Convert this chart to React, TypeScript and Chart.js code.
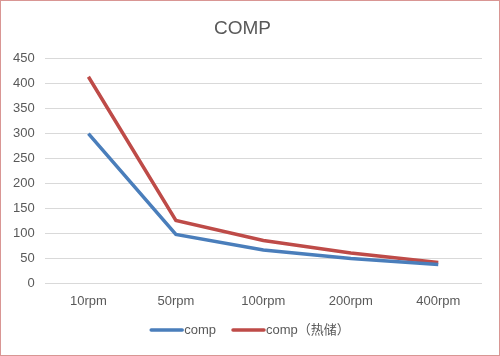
import React, { useEffect, useRef } from "react";
import { Chart, registerables } from "chart.js";

Chart.register(...registerables);

const categories = ["10rpm", "50rpm", "100rpm", "200rpm", "400rpm"];
const compValues = [300, 98, 67, 50, 38];
const compHotValues = [414, 126, 86, 61, 42];
const seriesNames = ["comp", "comp（热储）"];
const titleText = "COMP";

const FONT = '"Liberation Sans", "Noto Sans CJK SC", sans-serif';

const bottomLegend = {
  id: "bottomLegend",
  afterDraw(chart: any) {
    const ctx = chart.ctx;
    const lineW = 33;
    const itemGap = 16;
    const y = 329;
    ctx.save();
    ctx.font = `13px ${FONT}`;
    ctx.textBaseline = "middle";
    ctx.textAlign = "left";
    const items = chart.data.datasets.map((ds: any) => ({
      text: ds.label,
      color: ds.borderColor,
      w: ctx.measureText(ds.label).width,
    }));
    let total = 0;
    items.forEach((it: any, i: number) => {
      total += lineW + 1 + it.w + (i < items.length - 1 ? itemGap : 0);
    });
    let x = chart.width / 2 - total / 2;
    items.forEach((it: any) => {
      ctx.strokeStyle = it.color;
      ctx.lineWidth = 3.5;
      ctx.lineCap = "round";
      ctx.beginPath();
      ctx.moveTo(x + 1, y);
      ctx.lineTo(x + lineW - 1, y);
      ctx.stroke();
      x += lineW + 1;
      ctx.fillStyle = "#595959";
      ctx.fillText(it.text, x, y);
      x += it.w + itemGap;
    });
    ctx.restore();
  },
};

export default function App() {
  const ref = useRef<HTMLCanvasElement | null>(null);
  useEffect(() => {
    document.body.style.margin = "0";
    const ctx = ref.current!;
    const chart = new Chart(ctx, {
      type: "line",
      data: {
        labels: categories,
        datasets: [
          {
            label: seriesNames[0],
            data: compValues,
            borderColor: "#4a7ebb",
            backgroundColor: "#4a7ebb",
            borderWidth: 3.5,
            pointRadius: 0,
            tension: 0,
          },
          {
            label: seriesNames[1],
            data: compHotValues,
            borderColor: "#be4b48",
            backgroundColor: "#be4b48",
            borderWidth: 3.5,
            pointRadius: 0,
            tension: 0,
          },
        ],
      },
      plugins: [bottomLegend],
      options: {
        animation: false,
        responsive: false,
        maintainAspectRatio: false,
        layout: { padding: { left: 2, right: 17, top: 16, bottom: 36 } },
        plugins: {
          title: {
            display: true,
            text: titleText,
            color: "#595959",
            font: { family: FONT, size: 19, weight: "normal" },
            padding: { top: 0, bottom: 19 },
          },
          legend: { display: false },
          tooltip: { enabled: false },
        },
        scales: {
          x: {
            offset: true,
            grid: { display: false, drawTicks: false },
            border: { display: false },
            ticks: {
              color: "#595959",
              font: { family: FONT, size: 13 },
              padding: 10,
            },
          },
          y: {
            min: 0,
            max: 450,
            grid: { color: "#d9d9d9", drawTicks: false },
            border: { display: false },
            ticks: {
              stepSize: 50,
              color: "#595959",
              font: { family: FONT, size: 13 },
              padding: 10,
            },
          },
        },
      },
    });
    return () => chart.destroy();
  }, []);
  return (
    <div
      style={{
        width: 500,
        height: 356,
        boxSizing: "border-box",
        border: "1px solid #d99694",
        background: "#fff",
      }}
    >
      <canvas ref={ref} width={498} height={354} style={{ display: "block" }} />
    </div>
  );
}
